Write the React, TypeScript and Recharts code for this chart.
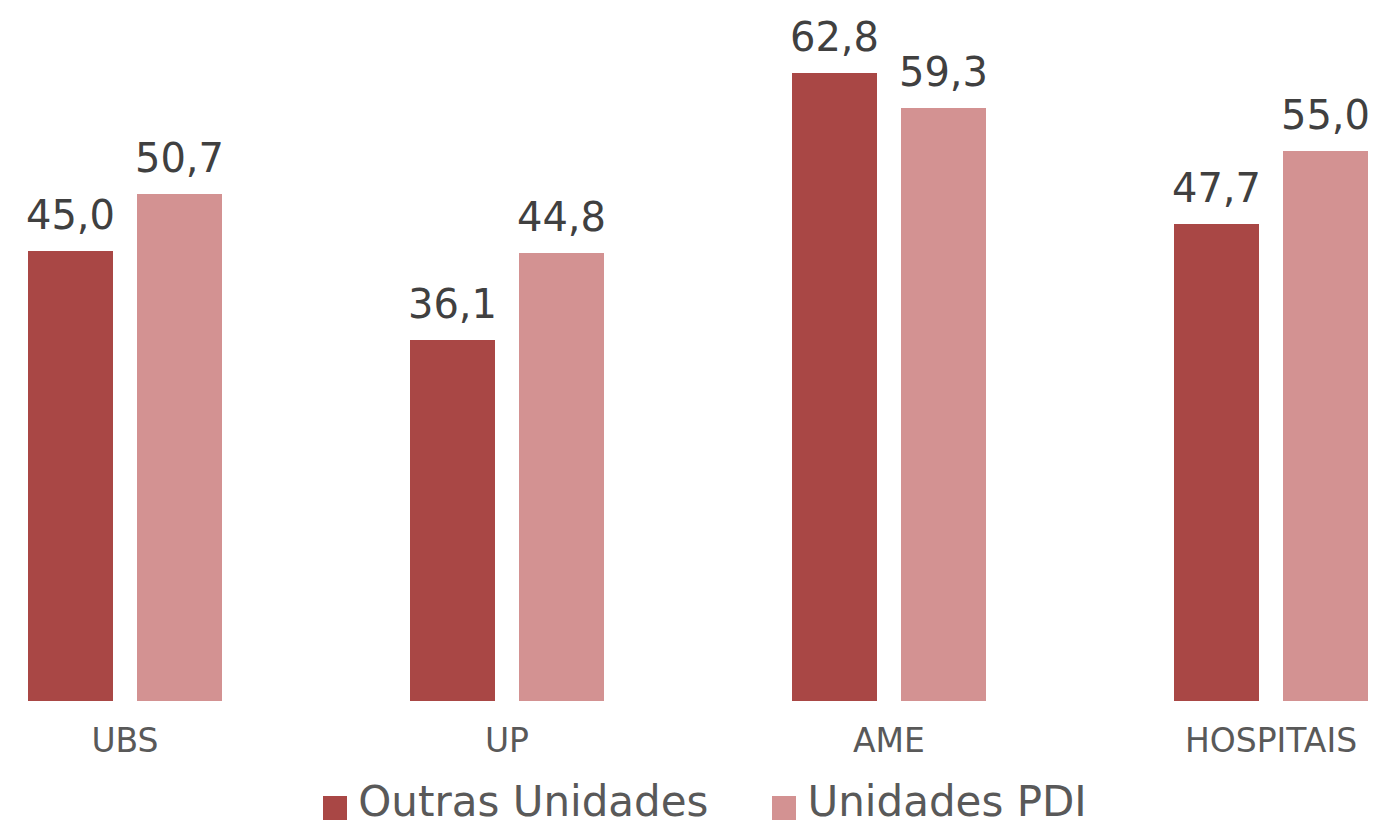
import { Bar, BarChart, LabelList, Legend, XAxis, YAxis } from "recharts";

const categories = ["UBS", "UP", "AME", "HOSPITAIS"];
const outrasUnidades = [45.0, 36.1, 62.8, 47.7];
const unidadesPdi = [50.7, 44.8, 59.3, 55.0];

const seriesNames = ["Outras Unidades", "Unidades PDI"];
const colors = ["#A94745", "#D39292"];

const data = categories.map((name, i) => ({
  name,
  outras: outrasUnidades[i],
  pdi: unidadesPdi[i],
}));

const fmt = (v: any) => Number(v).toFixed(1).replace(".", ",");

function CustomLegend() {
  return (
    <div
      style={{
        display: "flex",
        justifyContent: "center",
        alignItems: "center",
        gap: 64,
        height: 42,
        lineHeight: "42px",
        paddingLeft: 34,
        fontFamily: "DejaVu Sans",
        fontSize: 42,
        color: "#595959",
      }}
    >
      {seriesNames.map((n, i) => (
        <div key={n} style={{ display: "flex", alignItems: "center", height: 42 }}>
          <span
            style={{
              display: "inline-block",
              width: 24,
              height: 24,
              background: colors[i],
              marginRight: 11,
              marginTop: 12,
            }}
          />
          <span>{n}</span>
        </div>
      ))}
    </div>
  );
}

export default function App() {
  return (
    <div
      style={{
        position: "absolute",
        left: 0,
        top: 0,
        width: 1376,
        height: 829,
        overflow: "hidden",
        background: "#fff",
      }}
    >
      <div style={{ position: "absolute", left: -66, top: 0 }}>
        <BarChart
          width={1528}
          height={829}
          data={data}
          margin={{ top: 1, right: 0, left: 0, bottom: 36 }}
          barSize={85}
          barGap={24}
          barCategoryGap={94}
        >
          <XAxis
            dataKey="name"
            axisLine={false}
            tickLine={false}
            height={50}
            tick={{ fill: "#595959", fontSize: 33, fontFamily: "DejaVu Sans" }}
            tickMargin={22}
          />
          <YAxis hide domain={[0, 70]} />
          <Legend
            verticalAlign="bottom"
            content={<CustomLegend />}
            wrapperStyle={{ left: 66, width: 1376, top: 781, bottom: "auto" }}
          />
          <Bar dataKey="outras" name={seriesNames[0]} fill={colors[0]} isAnimationActive={false}>
            <LabelList
              dataKey="outras"
              position="top"
              offset={22}
              formatter={fmt}
              style={{ fill: "#404040", fontSize: 40, fontFamily: "DejaVu Sans" }}
            />
          </Bar>
          <Bar dataKey="pdi" name={seriesNames[1]} fill={colors[1]} isAnimationActive={false}>
            <LabelList
              dataKey="pdi"
              position="top"
              offset={22}
              formatter={fmt}
              style={{ fill: "#404040", fontSize: 40, fontFamily: "DejaVu Sans" }}
            />
          </Bar>
        </BarChart>
      </div>
    </div>
  );
}
